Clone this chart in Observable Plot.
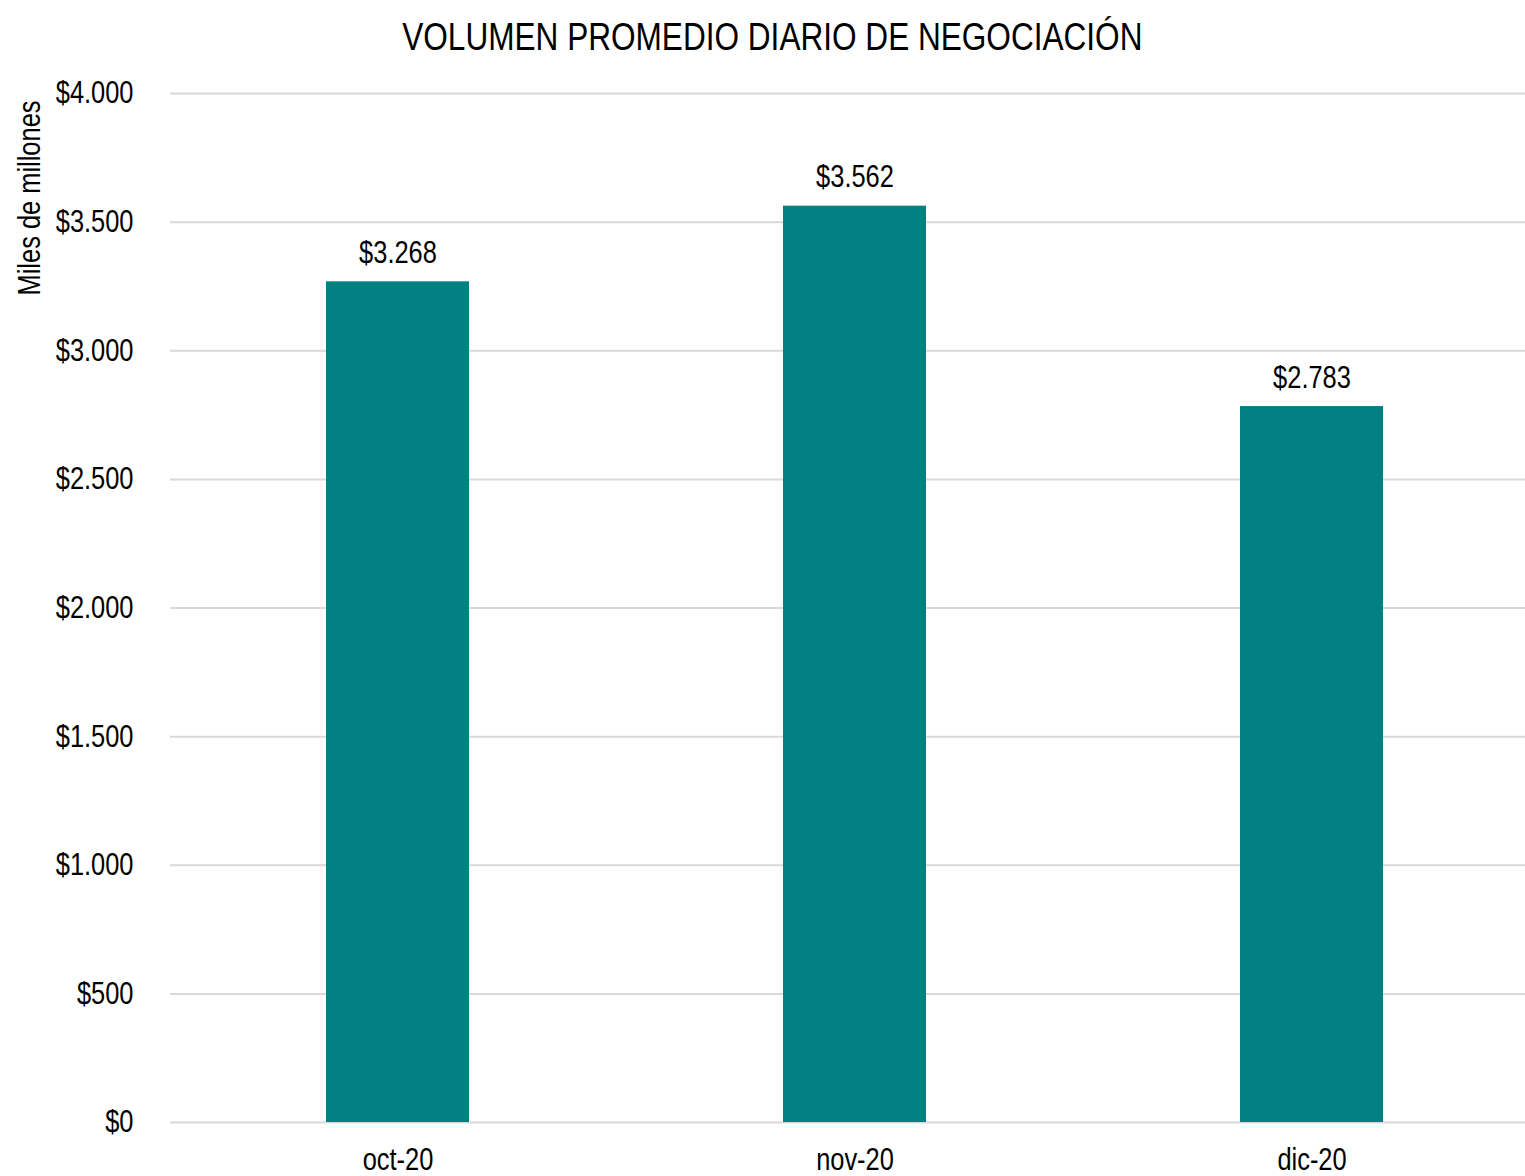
<!DOCTYPE html>
<html>
<head>
<meta charset="utf-8">
<script src="https://cdn.jsdelivr.net/npm/d3@7"></script>
<script src="https://cdn.jsdelivr.net/npm/@observablehq/plot@0.6"></script>
<style>
  html, body { margin: 0; padding: 0; background: #fff; }
  #title { height: 62px; padding-top: 4px; padding-left: 20px; box-sizing: content-box; text-align: center;
    font-family: "Liberation Sans", sans-serif; font-size: 38.5px; line-height: 66px; color: #000; white-space: nowrap; }
  #title span { display: inline-block; transform: scaleX(0.82); transform-origin: center; }
</style>
</head>
<body>
<div id="title"><span>VOLUMEN PROMEDIO DIARIO DE NEGOCIACIÓN</span></div>
<div id="chart"></div>
<script>
const months = ["oct-20", "nov-20", "dic-20"];
const volumes = [3268, 3562, 2783];
const yTicks = [0, 500, 1000, 1500, 2000, 2500, 3000, 3500, 4000];
const yLabel = "Miles de millones";

const data = months.map((m, i) => ({month: m, value: volumes[i]}));
const loc = d3.formatLocale({decimal: ",", thousands: ".", grouping: [3], currency: ["$", ""]});
const fmt = loc.format("$,.0f");
const font = '"Liberation Sans", sans-serif';
const fs = 31;

const chart = Plot.plot({
  width: 1525,
  height: 1110,
  marginLeft: 170,
  marginRight: 0,
  marginTop: 27,
  marginBottom: 54,
  style: {fontFamily: font, fontSize: fs + "px", color: "#000", background: "#fff"},
  x: {domain: months, range: [169.5, 1540.5], paddingInner: 0.687, paddingOuter: 0.3435, align: 0.5, label: null},
  y: {domain: [0, 4000], label: null},
  marks: [
    Plot.ruleY(yTicks, {stroke: "#d9d9d9", strokeWidth: 2}),
    Plot.barY(data, {x: "month", y: "value", fill: "#008080"}),
    Plot.text(data, {x: "month", y: "value", text: d => fmt(d.value), lineAnchor: "bottom", dy: -19, fontSize: fs, fill: "#000"}),
    Plot.axisY({ticks: yTicks, tickFormat: fmt, tickSize: 0, tickPadding: 37, fontSize: fs, label: null}),
    Plot.axisX({tickSize: 0, tickPadding: 25, fontSize: fs, label: null}),
    Plot.text([yLabel], {frameAnchor: "top-left", dx: -153, dy: 7, rotate: -90, textAnchor: "end", fontSize: fs, fill: "#000"})
  ]
});

document.getElementById("chart").appendChild(chart);

// Emulate a narrow (condensed) typeface by compressing each text to 82% of its natural length.
chart.querySelectorAll("text").forEach(t => {
  const len = t.getComputedTextLength();
  if (len > 0) {
    t.setAttribute("textLength", (len * 0.82).toFixed(2));
    t.setAttribute("lengthAdjust", "spacingAndGlyphs");
  }
});
</script>
</body>
</html>
